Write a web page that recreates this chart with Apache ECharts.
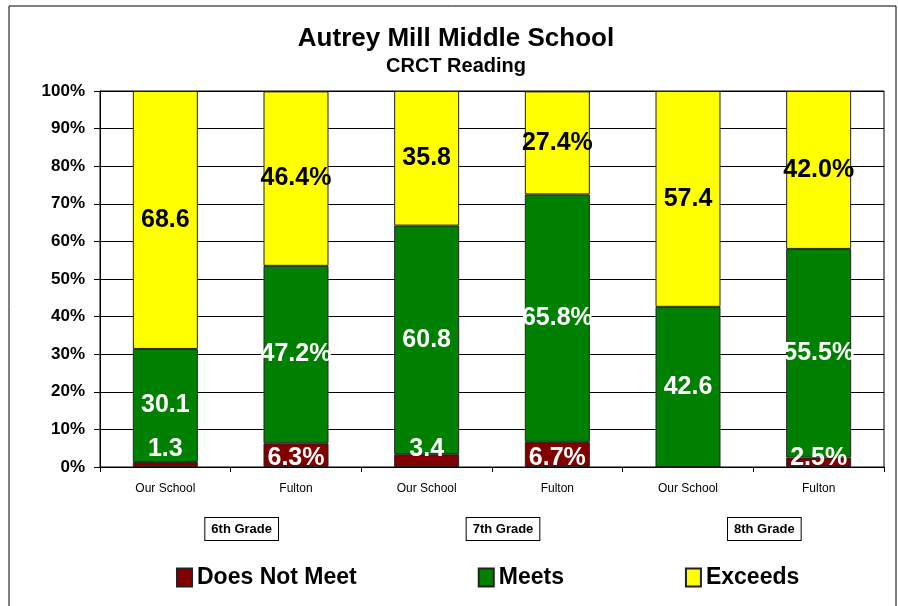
<!DOCTYPE html>
<html>
<head>
<meta charset="utf-8">
<title>CRCT Reading</title>
<script src="https://cdn.jsdelivr.net/npm/echarts@6/dist/echarts.min.js"></script>
<style>
  html, body { margin: 0; padding: 0; background: #fff; }
  #main { width: 898px; height: 606px; }
</style>
</head>
<body>
<div id="main"></div>
<script>
// categories along the bottom
var schools = ['Our School', 'Fulton', 'Our School', 'Fulton', 'Our School', 'Fulton'];
var grades = ['6th Grade', '7th Grade', '8th Grade'];

// percentages per bar
var doesNotMeet = [1.3, 6.3, 3.4, 6.7, 0, 2.5];
var meets = [30.1, 47.2, 60.8, 65.8, 42.6, 55.5];
var exceeds = [68.6, 46.4, 35.8, 27.4, 57.4, 42.0];

var FONT = "'Liberation Sans', Arial, sans-serif";

// our school labels are plain numbers, Fulton ones carry a %
function fmt(p) {
  if (!p.value) return '';
  var s = p.value.toFixed(1);
  return p.dataIndex % 2 === 1 ? s + '%' : s;
}

function makeSeries(name, data, color, labelColor) {
  return {
    name: name,
    type: 'bar',
    stack: 'all',
    barWidth: 65,
    data: data,
    itemStyle: { color: color, borderColor: '#222', borderWidth: 1 },
    label: {
      show: true,
      position: 'inside',
      color: labelColor,
      fontFamily: FONT,
      fontWeight: 'bold',
      fontSize: 25,
      formatter: fmt
    }
  };
}

var s1 = makeSeries('Does Not Meet', doesNotMeet, '#800000', '#fff');
// small bottom segments: excel lifts the label off the axis
s1.data = doesNotMeet.map(function (v, i) {
  return {
    value: v,
    label: { position: 'insideBottom', distance: i % 2 === 0 ? 5 : -4 }
  };
});
var s2 = makeSeries('Meets', meets, '#008000', '#fff');
var s3 = makeSeries('Exceeds', exceeds, '#FFFF00', '#000');

var chart = echarts.init(document.getElementById('main'));
chart.setOption({
  animation: false,
  backgroundColor: '#fff',
  textStyle: { fontFamily: FONT },
  graphic: [{
    type: 'rect',
    shape: { x: 9, y: 6, width: 887, height: 640 },
    style: { fill: null, stroke: '#000', lineWidth: 1 },
    silent: true
  }],
  title: {
    text: 'Autrey Mill Middle School',
    subtext: 'CRCT Reading',
    left: 451,
    textAlign: 'center',
    top: 21,
    itemGap: 4,
    textStyle: { fontFamily: FONT, fontWeight: 'bold', fontSize: 26, color: '#000' },
    subtextStyle: { fontFamily: FONT, fontWeight: 'bold', fontSize: 20, color: '#000' }
  },
  grid: {
    left: 100, right: 14, top: 91, bottom: 139,
    show: true, borderColor: '#000', borderWidth: 1
  },
  legend: {
    data: ['Does Not Meet', 'Meets', 'Exceeds'],
    left: 171,
    top: 561,
    itemWidth: 15,
    itemHeight: 18,
    itemGap: 121,
    icon: 'rect',
    textStyle: { fontFamily: FONT, fontWeight: 'bold', fontSize: 23, color: '#000' }
  },
  xAxis: [{
    type: 'category',
    data: schools,
    axisLine: { lineStyle: { color: '#000' } },
    axisTick: { show: true, length: 5, lineStyle: { color: '#000' } },
    axisLabel: { color: '#000', fontSize: 12, margin: 16, fontFamily: FONT }
  }, {
    type: 'category',
    data: grades,
    position: 'bottom',
    offset: 40,
    axisLine: { show: false },
    axisTick: { show: false },
    axisLabel: {
      margin: 11,
      // invisible pad on the left nudges the boxed label to the right
      formatter: function (v) { return '{pad|}{box|' + v + '}'; },
      rich: {
        pad: { width: 22 },
        box: {
          color: '#000', fontSize: 13, fontWeight: 'bold', fontFamily: FONT,
          borderColor: '#000', borderWidth: 1,
          padding: [5, 6, 4, 6],
          backgroundColor: '#fff'
        }
      }
    }
  }],
  yAxis: {
    type: 'value',
    min: 0,
    max: 100,
    interval: 10,
    axisLine: { show: true, lineStyle: { color: '#000' } },
    axisTick: { show: true, length: 6, lineStyle: { color: '#000' } },
    axisLabel: {
      formatter: '{value}%',
      color: '#000', fontSize: 17, fontWeight: 'bold', fontFamily: FONT,
      margin: 15
    },
    splitLine: { lineStyle: { color: '#000', width: 1 } }
  },
  series: [s1, s2, s3]
});
</script>
</body>
</html>
